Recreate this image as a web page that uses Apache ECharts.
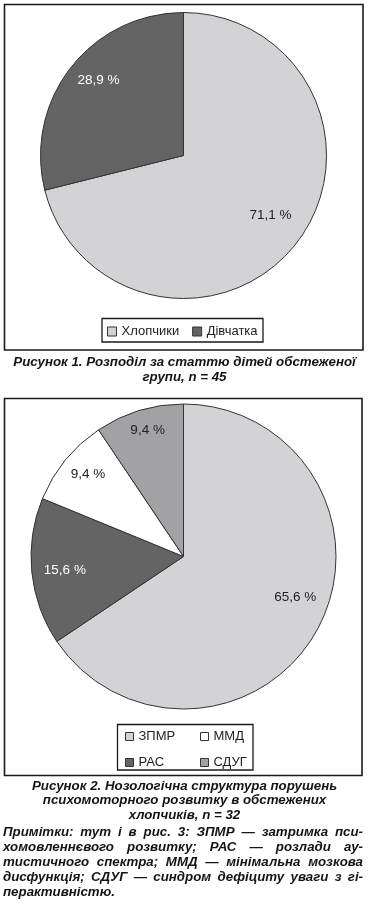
<!DOCTYPE html>
<html><head><meta charset="utf-8">
<script src="https://cdn.jsdelivr.net/npm/echarts@6/dist/echarts.min.js"></script>
<style>html,body{margin:0;padding:0;background:#fff}#c{width:369px;height:915px}</style>
</head><body><div id="c"></div>
<script>
// ---- data ----
const genderCats = ['Хлопчики', 'Дівчатка'];
const genderVals = [71.1, 28.9];
const diagCats = ['ЗПМР', 'РАС', 'ММД', 'СДУГ'];
const diagVals = [65.6, 15.6, 9.4, 9.4];
const caption1 = ['Рисунок 1. Розподіл за статтю дітей обстеженої', 'групи, n = 45'];
const caption2 = ['Рисунок 2. Нозологічна структура порушень', 'психомоторного розвитку в обстежених', 'хлопчиків, n = 32'];
const notes = [
  'Примітки: тут і в рис. 3: ЗПМР — затримка пси-',
  'хомовленнєвого розвитку; РАС — розлади ау-',
  'тистичного спектра; ММД — мінімальна мозкова',
  'дисфункція; СДУГ — синдром дефіциту уваги з гі-',
  'перактивністю.'
];

// ---- styles ----
const genderColors = ['#d3d3d5', '#646464'];
const genderLabelColors = ['#222', '#fff'];
const genderLabelOffsets = [[0, -8], [2, -7]];
const diagColors = ['#d3d3d5', '#646464', '#ffffff', '#a2a2a5'];
const diagLabelColors = ['#222', '#fff', '#222', '#222'];
const diagLabelOffsets = [[3, -17], [4, 1], [0, -4], [0, -8]];
const FONT = '"Liberation Sans", Arial, sans-serif';
const capFontSize = 13.3;
const capFont = 'italic bold ' + capFontSize + 'px "Liberation Sans", Arial, sans-serif';
const capColor = '#141414';

const fmt = v => v.toFixed(1).replace('.', ',') + ' %';

function mainData(cats, vals, colors) {
  return cats.map((c, i) => ({ name: c, value: vals[i], itemStyle: { color: colors[i] } }));
}
function labelData(cats, vals, lc, offs) {
  return cats.map((c, i) => ({ name: c, value: vals[i], label: { color: lc[i], offset: offs[i] } }));
}

function pieMain(center, r, data) {
  return {
    type: 'pie', center: center, radius: [0, r], startAngle: 90, clockwise: true,
    data: data, label: { show: false }, labelLine: { show: false },
    itemStyle: { borderColor: '#333', borderWidth: 1 },
    emphasis: { disabled: true }, animation: false, silent: true
  };
}
function pieLabels(center, r0, r, data) {
  return {
    type: 'pie', center: center, radius: [r0, r], startAngle: 90, clockwise: true,
    data: data, itemStyle: { color: 'rgba(0,0,0,0)', borderWidth: 0 },
    label: { show: true, position: 'inside', fontFamily: FONT, fontSize: 13.5,
      formatter: p => fmt(p.value) },
    labelLine: { show: false }, emphasis: { disabled: true }, animation: false, silent: true
  };
}

// ---- text layout helpers ----
const ctx = document.createElement('canvas').getContext('2d');
ctx.font = capFont;
function centeredLines(lines, y0, dy) {
  return lines.map((t, i) => ({
    type: 'text', x: 184.5, y: y0 + dy * i,
    style: { text: t, font: capFont, fill: capColor, textAlign: 'center', textVerticalAlign: 'middle' }
  }));
}
function justifiedLines(lines, x0, x1, y0, dy) {
  const out = [];
  lines.forEach((line, i) => {
    const words = line.split(' ');
    const widths = words.map(w => ctx.measureText(w).width);
    const sum = widths.reduce((a, b) => a + b, 0);
    const last = i === lines.length - 1;
    const gap = last || words.length < 2 ? ctx.measureText(' ').width : (x1 - x0 - sum) / (words.length - 1);
    let x = x0;
    words.forEach((w, k) => {
      out.push({ type: 'text', x: x, y: y0 + dy * i,
        style: { text: w, font: capFont, fill: capColor, textAlign: 'left', textVerticalAlign: 'middle' } });
      x += widths[k] + gap;
    });
  });
  return out;
}

const chart = echarts.init(document.getElementById('c'), null, { renderer: 'canvas' });

const legendCommon = {
  textStyle: { fontFamily: FONT, fontSize: 13, color: '#222' },
  icon: 'rect', itemStyle: { borderColor: '#333', borderWidth: 1 },
  selectedMode: false, padding: 0
};

chart.setOption({
  backgroundColor: '#fff',
  animation: false,
  legend: [
    Object.assign({}, legendCommon, { data: genderCats, orient: 'horizontal', left: 107, top: 325,
      itemWidth: 9, itemHeight: 9, itemGap: 13 }),
    Object.assign({}, legendCommon, { data: [diagCats[0], diagCats[1]], orient: 'vertical', left: 125, top: 730,
      itemWidth: 8, itemHeight: 8, itemGap: 13 }),
    Object.assign({}, legendCommon, { data: [diagCats[2], diagCats[3]], orient: 'vertical', left: 200, top: 730,
      itemWidth: 8, itemHeight: 8, itemGap: 13 })
  ],
  series: [
    pieMain([183.5, 155.5], 143, mainData(genderCats, genderVals, genderColors)),
    pieLabels([183.5, 155.5], 71.5, 143, labelData(genderCats, genderVals, genderLabelColors, genderLabelOffsets)),
    pieMain([183.5, 556.5], 152.5, mainData(diagCats, diagVals, diagColors)),
    pieLabels([183.5, 556.5], 88, 152.5, labelData(diagCats, diagVals, diagLabelColors, diagLabelOffsets))
  ],
  graphic: [
    { type: 'rect', shape: { x: 4.5, y: 4.5, width: 358.5, height: 345.5 }, style: { fill: 'none', stroke: '#1a1a1a', lineWidth: 1.6 }, silent: true },
    { type: 'rect', shape: { x: 102, y: 318.5, width: 161, height: 23.5 }, style: { fill: 'none', stroke: '#1a1a1a', lineWidth: 1.3 }, silent: true },
    { type: 'rect', shape: { x: 4.5, y: 398.5, width: 357.5, height: 377 }, style: { fill: 'none', stroke: '#1a1a1a', lineWidth: 1.6 }, silent: true },
    { type: 'rect', shape: { x: 117.5, y: 724.5, width: 135.5, height: 45.5 }, style: { fill: 'none', stroke: '#1a1a1a', lineWidth: 1.3 }, silent: true }
  ].concat(
    centeredLines(caption1, 362.5, 15),
    centeredLines(caption2, 786, 14.8),
    justifiedLines(notes, 3, 363, 832, 15.2)
  )
});
</script></body></html>
